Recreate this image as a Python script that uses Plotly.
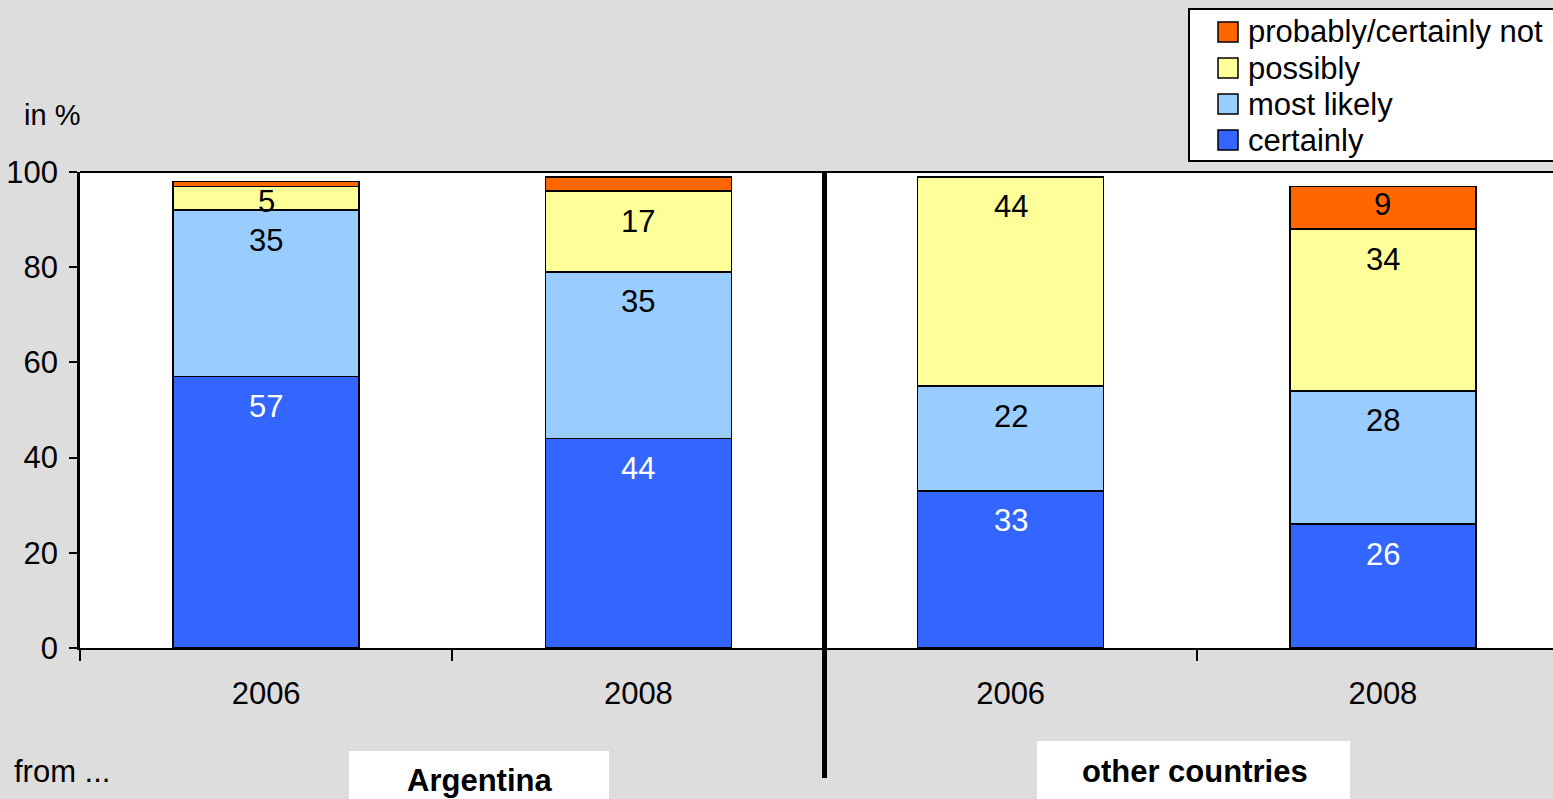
import plotly.graph_objects as go

# Survey shares (in %) by origin group and year
years = ["2006", "2008", "2006", "2008"]
groups = ["Argentina", "other countries"]
certainly = [57, 44, 33, 26]
most_likely = [35, 35, 22, 28]
possibly = [5, 17, 44, 34]
probably_not = [1, 3, 0, 9]

series = [
    ("certainly", certainly, "#3366FF", "white"),
    ("most likely", most_likely, "#99CCFF", "black"),
    ("possibly", possibly, "#FFFF99", "black"),
    ("probably/certainly not", probably_not, "#FF6600", "black"),
]

W, H = 1553, 799
PL, PT, PB = 80, 172, 648
FONT = "Arial, Liberation Sans, sans-serif"
FS = 31
x_pos = list(range(len(years)))
PX_PER_UNIT = (PB - PT) / 100.0


def px_x(px):
    return (px - PL) / (W - PL)


def px_y(py):
    return (PB - py) / (PB - PT)


fig = go.Figure()

for name, vals, color, _ in series:
    fig.add_trace(go.Bar(
        x=x_pos, y=vals, name=name, width=0.5,
        marker=dict(color=color, line=dict(color="black", width=1.5)),
        showlegend=False, hoverinfo="name+y",
    ))

# value labels near the top of each segment
annotations = []
base = [0] * len(years)
for name, vals, color, tcolor in series:
    for i, v in enumerate(vals):
        top = base[i] + v
        seg_px = v * PX_PER_UNIT
        if v >= 5:
            off = 30 if seg_px >= 60 else max(15, seg_px * 0.42)
            annotations.append(dict(
                x=x_pos[i], y=top, xref="x", yref="y", text=str(v),
                showarrow=False, yanchor="middle", yshift=-off,
                font=dict(family=FONT, size=FS, color=tcolor),
            ))
        base[i] = top

annotations += [
    dict(x=px_x(22), y=px_y(115), xref="paper", yref="paper", text="in %",
         showarrow=False, xanchor="left", yanchor="middle",
         font=dict(family=FONT, size=29, color="black")),
    dict(x=px_x(12), y=px_y(771), xref="paper", yref="paper", text="from ...",
         showarrow=False, xanchor="left", yanchor="middle",
         font=dict(family=FONT, size=FS, color="black")),
    dict(x=px_x(479), y=px_y(780), xref="paper", yref="paper",
         text="<b>%s</b>" % groups[0], showarrow=False,
         xanchor="center", yanchor="middle",
         font=dict(family=FONT, size=FS, color="black")),
    dict(x=px_x(1195), y=px_y(771), xref="paper", yref="paper",
         text="<b>%s</b>" % groups[1], showarrow=False,
         xanchor="center", yanchor="middle",
         font=dict(family=FONT, size=FS, color="black")),
]

shapes = [
    # white boxes behind the group names
    dict(type="rect", xref="paper", yref="paper",
         x0=px_x(349), x1=px_x(609), y0=px_y(751), y1=px_y(805),
         fillcolor="white", line=dict(width=0), layer="below"),
    dict(type="rect", xref="paper", yref="paper",
         x0=px_x(1037), x1=px_x(1350), y0=px_y(741), y1=px_y(805),
         fillcolor="white", line=dict(width=0), layer="below"),
    # top border of the plot area
    dict(type="line", xref="paper", yref="paper", x0=0, x1=1, y0=1, y1=1,
         line=dict(color="black", width=2)),
    # divider between the two groups
    dict(type="line", xref="x", yref="paper", x0=1.5, x1=1.5,
         y0=px_y(778), y1=1, line=dict(color="black", width=5)),
    # legend frame
    dict(type="rect", xref="paper", yref="paper",
         x0=px_x(1189), x1=px_x(1570), y0=px_y(161), y1=px_y(9),
         fillcolor="white", line=dict(color="black", width=2)),
]

# legend entries, listed top-down
for row, (name, vals, color, _) in enumerate(reversed(series)):
    cy = 32 + 36 * row
    shapes.append(dict(
        type="rect", xref="paper", yref="paper",
        x0=px_x(1218), x1=px_x(1238), y0=px_y(cy + 10), y1=px_y(cy - 10),
        fillcolor=color, line=dict(color="black", width=1.5)))
    annotations.append(dict(
        x=px_x(1246), y=px_y(cy), xref="paper", yref="paper", text=name,
        showarrow=False, xanchor="left", yanchor="middle",
        font=dict(family=FONT, size=FS, color="black")))

fig.update_layout(
    width=W, height=H,
    margin=dict(l=PL, r=0, t=PT, b=H - PB, pad=0),
    paper_bgcolor="#DDDDDD", plot_bgcolor="white",
    barmode="stack", bargap=0.5,
    font=dict(family=FONT, size=FS, color="black"),
    annotations=annotations, shapes=shapes,
    showlegend=False,
)

fig.update_xaxes(
    range=[-0.5, 3.5 - 16 / 372.0],
    tickvals=x_pos, ticktext=years, ticks="",
    tickfont=dict(family=FONT, size=FS, color="black"),
    ticklabelstandoff=17,
    showline=True, linecolor="black", linewidth=1.5,
    showgrid=False, zeroline=False,
    minor=dict(tickvals=[-0.5, 0.5, 1.5, 2.5, 3.5], ticks="outside",
               ticklen=11, tickcolor="black", tickwidth=1.5, showgrid=False),
)
fig.update_yaxes(
    range=[0, 100], tickvals=[0, 20, 40, 60, 80, 100],
    ticks="outside", ticklen=8, tickcolor="black", tickwidth=1.5,
    tickfont=dict(family=FONT, size=FS, color="black"),
    ticklabelstandoff=5,
    showline=True, linecolor="black", linewidth=2.5,
    showgrid=False, zeroline=False,
)

fig.write_html("out.html")
